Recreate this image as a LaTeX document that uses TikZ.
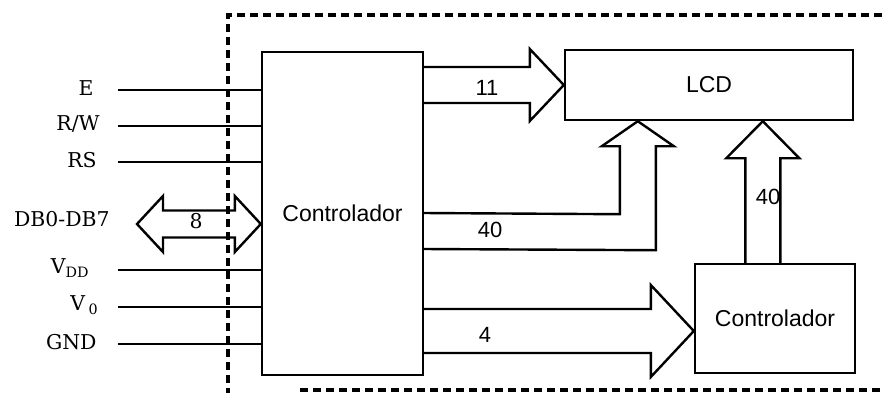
\documentclass[tikz,border=0pt]{standalone}
\usepackage{fontspec}
\setmainfont{Liberation Sans}
\newfontfamily\pinfont{DejaVu Serif}
\usetikzlibrary{calc}

\begin{document}
\begin{tikzpicture}[x=0.5pt, y=-0.5pt,
    blocco/.style={draw, line width=1.2pt, inner sep=0pt, font=\fontsize{11.5}{13}\selectfont},
    bus/.style={line width=1.2pt, line join=miter},
    pin/.style={line width=1.2pt},
    pinlab/.style={font=\pinfont\fontsize{10.2}{12}\selectfont, anchor=east, inner sep=0pt},
    num/.style={font=\fontsize{11}{13}\selectfont, inner sep=0pt}]

    \useasboundingbox (0,0) rectangle (882,393);

    % Cornice tratteggiata
    \draw[line width=1.6pt, dash pattern=on 4pt off 2.5pt] (882,15) -- (228,15) -- (228,393);
    \draw[line width=1.6pt, dash pattern=on 4pt off 2.5pt] (300,390) -- (882,390);

    % Blocchi
    \node[blocco, minimum width=80.5pt, minimum height=161.5pt] (ctrl) at (342.5,213.5) {Controlador};
    \node[blocco, minimum width=144pt, minimum height=35pt] (lcd) at (709,85) {LCD};
    \node[blocco, minimum width=80pt, minimum height=54.5pt] (ctrl2) at (775,318.5) {Controlador};

    % Segnali di ingresso
    \foreach \y/\xr/\nome/\testo in {90/94/e/E, 126/100/rw/{R/W}, 162/97/rs/RS,
        270/90/vdd/{V\textsubscript{DD}}, 307/99/vo/{V\,\textsubscript{0}}, 344/97/gnd/GND} {
        \coordinate (\nome) at (118,\y);
        \node[pinlab] (\nome-lab) at (\xr,\y-2) {\testo};
        \draw[pin] (\nome) -- (ctrl.west |- \nome);
    }

    % Bus dati bidirezionale
    \coordinate (db) at (137,224);
    \node[pinlab] (db-lab) at (110,219) {DB0-DB7};
    \draw[bus] (db) -- ++(26,-28) -- ++(0,14.5) -- ($(ctrl.west |- db)+(-26,-13.5)$) -- ++(0,-14.5)
        -- (ctrl.west |- db) -- ++(-26,28) -- ++(0,-14.5) -- ($(db)+(26,13.5)$) -- ++(0,14.5) -- cycle;
    \node[pinlab, anchor=center] (n8) at (196,221) {8};

    % Bus 11 verso LCD
    \draw[bus] ($(ctrl.east |- lcd.west)+(0,-18)$) -- ($(lcd.west)+(-34,-18)$) -- ++(0,-18)
        -- (lcd.west) -- ++(-34,36) -- ++(0,-18) -- ($(ctrl.east |- lcd.west)+(0,18)$);
    \node[num] (n11) at (487,88) {11};

    % Bus 40 verso LCD (a L)
    \coordinate (t40a) at ($(lcd.south west)+(74,0)$);
    \draw[bus] (ctrl.east |- 0,213) -- ($(t40a)+(-18,93)$) -- ($(t40a)+(-18,25)$) -- ++(-18,0)
        -- (t40a) -- ++(36,25) -- ++(-18,0) -- ($(t40a)+(18,129)$) -- (ctrl.east |- 0,249);
    \node[num] (n40a) at (490,230) {40};

    % Bus 4 verso il secondo controllore
    \coordinate (t4) at ($(ctrl2.west)+(0,12.5)$);
    \draw[bus] ($(ctrl.east |- t4)+(0,-22)$) -- ($(t4)+(-43,-22)$) -- ++(0,-24)
        -- (t4) -- ++(-43,46) -- ++(0,-24) -- ($(ctrl.east |- t4)+(0,22)$);
    \node[num] (n4) at (485,335) {4};

    % Bus 40 dal secondo controllore all'LCD
    \coordinate (t40b) at ($(lcd.south west)+(199,0)$);
    \draw[bus] ($(t40b |- ctrl2.north)+(-17.5,0)$) -- ($(t40b)+(-17.5,37)$) -- ++(-19,0)
        -- (t40b) -- ++(36.5,37) -- ++(-19,0) -- ($(t40b |- ctrl2.north)+(17.5,0)$);
    \node[num] (n40b) at (768,197) {40};

\end{tikzpicture}
\end{document}
